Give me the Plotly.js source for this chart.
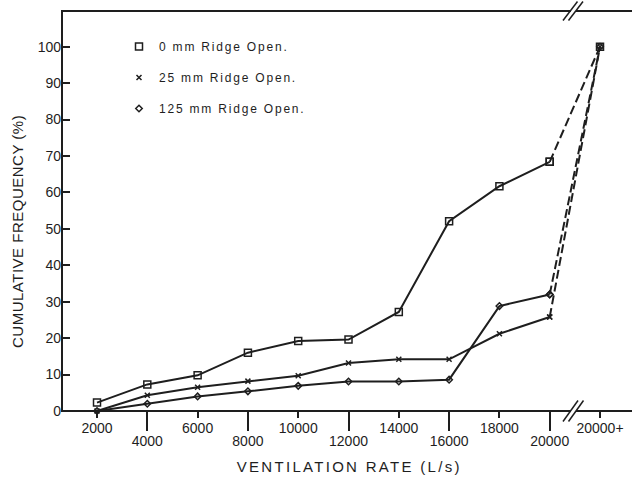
<!DOCTYPE html>
<html>
<head>
<meta charset="utf-8">
<script src="https://cdn.plot.ly/plotly-3.0.1.min.js"></script>
<style>
  html, body { margin: 0; padding: 0; background: #ffffff; }
  #chart { width: 632px; height: 479px; }
  .legendtext { letter-spacing: 1.8px; }
  .annotation[data-index="0"] .annotation-text { letter-spacing: 2.3px; }
  .annotation[data-index="1"] .annotation-text { letter-spacing: 0.5px; }
</style>
</head>
<body>
<div id="chart"></div>
<script>
// Ventilation-rate classes (the last one is the open-ended class)
const rateLabels = ['2000', '4000', '6000', '8000', '10000', '12000', '14000', '16000', '18000', '20000', '20000+'];

// Cumulative frequency (%) for each ridge opening
const ridge0   = [2.3, 7.3, 9.8, 16.0, 19.2, 19.6, 27.2, 52.1, 61.7, 68.4, 100];
const ridge25  = [0, 4.3, 6.5, 8.2, 9.7, 13.2, 14.2, 14.2, 21.2, 25.8, 100];
const ridge125 = [0, 2.0, 4.0, 5.4, 6.9, 8.1, 8.1, 8.6, 28.8, 32.0, 100];

const seriesNames = ['0 mm Ridge Open.', '25 mm Ridge Open.', '125 mm Ridge Open.'];
const yTickValues = [0, 10, 20, 30, 40, 50, 60, 70, 80, 90, 100];

// ---- drawing ----
const INK = '#1e1e1e';
const symbols = [
  {symbol: 'square-open', size: 7},
  {symbol: 'x-thin-open', size: 5},
  {symbol: 'diamond-open', size: 5}
];
const series = [ridge0, ridge25, ridge125];

const idx = rateLabels.map((_, i) => i);
const lastClosed = rateLabels.length - 2;      // index of "20000"

const traces = [];
series.forEach((vals, s) => {
  const mk = {symbol: symbols[s].symbol, size: symbols[s].size, color: INK,
              line: {color: INK, width: 1.5}};
  // solid part over the closed classes
  traces.push({
    type: 'scatter', mode: 'lines+markers',
    x: idx.slice(0, lastClosed + 1), y: vals.slice(0, lastClosed + 1),
    line: {color: INK, width: 2}, marker: mk,
    showlegend: false, cliponaxis: false, hoverinfo: 'skip'
  });
  // dashed link to the open-ended class
  traces.push({
    type: 'scatter', mode: 'lines+markers',
    x: idx.slice(lastClosed), y: vals.slice(lastClosed),
    line: {color: INK, width: 2, dash: '9px,4px'}, marker: mk,
    showlegend: false, cliponaxis: false, hoverinfo: 'skip'
  });
  // legend entry (marker only)
  traces.push({
    type: 'scatter', mode: 'markers', x: [null], y: [null],
    xaxis: 'x2', name: seriesNames[s], legendgroup: 'g' + s,
    marker: mk, showlegend: true, hoverinfo: 'skip'
  });
});

// tick labels alternate between two rows
const upperIdx = idx.filter(i => i % 2 === 0);
const lowerIdx = idx.filter(i => i % 2 === 1);

// plot-area geometry (px) used for the frame and axis-break marks
const PL = 62, PW = 570, PT = 11, PH = 400;
const px = x => (x - PL) / PW;
const py = y => (PT + PH - y) / PH;
const seg = (x0, y0, x1, y1, w) => ({
  type: 'line', xref: 'paper', yref: 'paper', layer: 'above',
  x0: px(x0), y0: py(y0), x1: px(x1), y1: py(y1),
  line: {color: INK, width: w}
});
const gapL = 571, gapR = 576;
const shapes = [
  seg(PL, PT, PL, PT + PH, 2),                 // left axis
  seg(PL - 1, PT + PH, gapL, PT + PH, 2),      // bottom axis, left of break
  seg(gapR, PT + PH, PL + PW, PT + PH, 2),     // bottom axis, right of break
  seg(PL - 1, PT, gapL, PT, 2),                // top frame, left of break
  seg(gapR, PT, PL + PW, PT, 2),               // top frame, right of break
  seg(563, PT + PH + 10.5, 578, PT + PH - 10.5, 1.5),
  seg(568.5, PT + PH + 10.5, 583.5, PT + PH - 10.5, 1.5),
  seg(563, PT + 9.5, 577.5, PT - 9.5, 1.5),
  seg(568.5, PT + 9.5, 583, PT - 9.5, 1.5)
];

const xCommon = {
  range: [-0.696, 10.636], showgrid: false, zeroline: false, showline: false,
  tickmode: 'array', ticks: 'outside', tickwidth: 2, tickcolor: INK,
  tickfont: {size: 14, color: INK}, ticklabelstandoff: -2, fixedrange: true
};

const layout = {
  width: 632, height: 479,
  margin: {l: PL, r: 0, t: PT, b: 479 - PT - PH, pad: 0},
  paper_bgcolor: '#ffffff', plot_bgcolor: '#ffffff',
  font: {family: '"Liberation Sans", Arial, sans-serif', color: INK, size: 14},
  showlegend: true,
  legend: {
    x: px(119), y: py(32), xanchor: 'left', yanchor: 'top',
    bgcolor: 'rgba(0,0,0,0)', borderwidth: 0,
    font: {size: 12, color: INK}, tracegroupgap: 12, itemwidth: 30
  },
  xaxis: Object.assign({}, xCommon, {
    tickvals: upperIdx, ticktext: upperIdx.map(i => rateLabels[i]), ticklen: 6
  }),
  xaxis2: Object.assign({}, xCommon, {
    overlaying: 'x', anchor: 'y', side: 'bottom',
    tickvals: lowerIdx, ticktext: lowerIdx.map(i => rateLabels[i]), ticklen: 19
  }),
  yaxis: {
    range: [0, 109.8], showgrid: false, zeroline: false, showline: false,
    tickmode: 'array', tickvals: yTickValues, ticks: 'inside', ticklen: 8,
    tickwidth: 2, tickcolor: INK, tickfont: {size: 14, color: INK}, fixedrange: true
  },
  shapes: shapes,
  annotations: [
    {text: 'VENTILATION RATE (L/s)', xref: 'paper', yref: 'paper',
     x: px(349), y: py(466), xanchor: 'center', yanchor: 'middle',
     showarrow: false, font: {size: 15, color: INK}},
    {text: 'CUMULATIVE FREQUENCY (%)', xref: 'paper', yref: 'paper',
     x: px(17), y: py(232), xanchor: 'center', yanchor: 'middle', textangle: -90,
     showarrow: false, font: {size: 15, color: INK}}
  ]
};

Plotly.newPlot('chart', traces, layout, {displayModeBar: false, staticPlot: true});
</script>
</body>
</html>
